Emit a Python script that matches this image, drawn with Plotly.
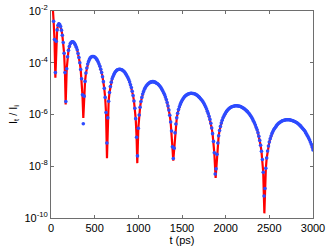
import plotly.graph_objects as go

# sample times (ps) of the blue dots, every 10 ps
t_ps = list(range(0, 3001, 10))

# log10(I_t / I_i) at each sample time
log_ratio = [
    # 0 .. 400
    -1.20, -1.50, -1.85, -2.40, -3.10, -4.38, -3.17, -2.73, -2.55, -2.49,
    -2.52, -2.60, -2.74, -2.94, -3.22, -3.63, -4.38, -5.50, -4.23, -3.77,
    -3.52, -3.37, -3.27, -3.22, -3.19, -3.19, -3.21, -3.26, -3.32, -3.40,
    -3.50, -3.64, -3.80, -4.00, -4.26, -4.62, -5.24, -6.36, -5.29, -4.72,
    -4.40,
    # 410 .. 1000
    -4.20, -4.05, -3.95, -3.87, -3.81, -3.78, -3.76, -3.76, -3.76, -3.78,
    -3.81, -3.85, -3.90, -3.97, -4.05, -4.14, -4.25, -4.38, -4.54, -4.73,
    -4.99, -5.34, -5.92, -7.10, -6.13, -5.49, -5.15, -4.92, -4.75, -4.62,
    -4.53, -4.45, -4.39, -4.34, -4.30, -4.27, -4.26, -4.25, -4.25, -4.26,
    -4.27, -4.29, -4.32, -4.35, -4.40, -4.45, -4.51, -4.57, -4.65, -4.74,
    -4.85, -4.96, -5.10, -5.27, -5.48, -5.76, -6.16, -6.88, -7.60, -6.53,
    # 1010 .. 1600
    -6.02, -5.72, -5.50, -5.34, -5.21, -5.11, -5.02, -4.96, -4.90, -4.86,
    -4.82, -4.79, -4.77, -4.75, -4.74, -4.73, -4.73, -4.74, -4.75, -4.77,
    -4.79, -4.81, -4.84, -4.88, -4.92, -4.97, -5.03, -5.09, -5.16, -5.23,
    -5.32, -5.42, -5.54, -5.67, -5.83, -6.03, -6.29, -6.64, -7.25, -7.70,
    -7.30, -6.71, -6.37, -6.13, -5.95, -5.81, -5.70, -5.61, -5.53, -5.46,
    -5.40, -5.35, -5.31, -5.28, -5.25, -5.23, -5.21, -5.20, -5.19, -5.18,
    # 1610 .. 2200
    -5.18, -5.19, -5.19, -5.20, -5.21, -5.23, -5.25, -5.28, -5.31, -5.34,
    -5.38, -5.42, -5.46, -5.51, -5.57, -5.63, -5.70, -5.78, -5.87, -5.96,
    -6.07, -6.19, -6.34, -6.52, -6.74, -7.04, -7.48, -8.30, -8.10, -7.54,
    -7.10, -6.82, -6.62, -6.46, -6.33, -6.22, -6.13, -6.06, -5.99, -5.93,
    -5.88, -5.84, -5.80, -5.77, -5.74, -5.72, -5.70, -5.69, -5.68, -5.67,
    -5.66, -5.66, -5.66, -5.67, -5.67, -5.68, -5.69, -5.71, -5.73, -5.75,
    # 2210 .. 2800
    -5.77, -5.80, -5.83, -5.86, -5.89, -5.93, -5.97, -6.02, -6.07, -6.13,
    -6.19, -6.26, -6.33, -6.41, -6.50, -6.59, -6.71, -6.84, -7.00, -7.19,
    -7.42, -7.74, -8.23, -9.15, -8.86, -8.08, -7.68, -7.41, -7.22, -7.06,
    -6.94, -6.83, -6.73, -6.66, -6.59, -6.54, -6.49, -6.44, -6.40, -6.36,
    -6.33, -6.31, -6.28, -6.26, -6.24, -6.23, -6.22, -6.21, -6.20, -6.20,
    -6.20, -6.20, -6.20, -6.21, -6.22, -6.23, -6.24, -6.26, -6.27, -6.29,
    # 2810 .. 3000
    -6.31, -6.33, -6.36, -6.39, -6.42, -6.45, -6.49, -6.53, -6.57, -6.61,
    -6.66, -6.72, -6.78, -6.84, -6.91, -6.98, -7.06, -7.15, -7.26, -7.37,
]

# minima of the red (fine) curve at the dips
dip_t_ps = [50, 168, 370, 641, 988, 1400, 1885, 2443]
dip_log_ratio = [-4.58, -5.61, -6.13, -7.69, -7.88, -7.78, -8.45, -9.82]

y_tick_exp = [-10, -8, -6, -4, -2]
x_tick_vals = [0, 500, 1000, 1500, 2000, 2500, 3000]

# red curve: blue samples plus the dip minima
red_pts = [(t, v) for t, v in zip(t_ps, log_ratio)
           if all(abs(t - d) > 5 for d in dip_t_ps)]
red_pts += list(zip(dip_t_ps, dip_log_ratio))
red_pts.sort()
red_t = [p[0] for p in red_pts]
red_y = [10 ** p[1] for p in red_pts]

blue_y = [10 ** v for v in log_ratio]

fig = go.Figure()
fig.add_trace(go.Scatter(x=red_t, y=red_y, mode="lines",
                         line=dict(color="#ff0000", width=2.2),
                         showlegend=False, hoverinfo="skip"))
fig.add_trace(go.Scatter(x=t_ps, y=blue_y, mode="markers",
                         marker=dict(color="#2d4bff", size=3.6,
                                     line=dict(width=0)),
                         showlegend=False, hoverinfo="skip"))

axis_common = dict(showline=True, mirror="ticks", linecolor="#6e6e6e",
                   linewidth=1, ticks="inside", ticklen=3,
                   tickcolor="#6e6e6e", showgrid=False, zeroline=False,
                   automargin=False,
                   tickfont=dict(size=11, color="black"))

fig.update_xaxes(range=[0, 3000], tickvals=x_tick_vals,
                 title=dict(text="t (ps)", font=dict(size=11, color="black"),
                            standoff=0),
                 **axis_common)
fig.update_yaxes(type="log", range=[-10, -2],
                 tickvals=[10 ** e for e in y_tick_exp],
                 ticktext=["10<sup>%d</sup>" % e for e in y_tick_exp],
                 title=dict(text="I<sub>t</sub> / I<sub>i</sub>",
                            font=dict(size=11, color="black"), standoff=4),
                 **axis_common)

fig.update_layout(width=327, height=246,
                  margin=dict(l=51, r=14, t=11, b=28),
                  paper_bgcolor="white", plot_bgcolor="white",
                  font=dict(family="Liberation Sans, Arial, sans-serif",
                            size=11, color="black"))

fig.write_html("out.html",
               config={"displayModeBar": False, "staticPlot": True},
               post_script="document.body.style.margin='0px';"
                           "document.body.style.overflow='hidden';")
